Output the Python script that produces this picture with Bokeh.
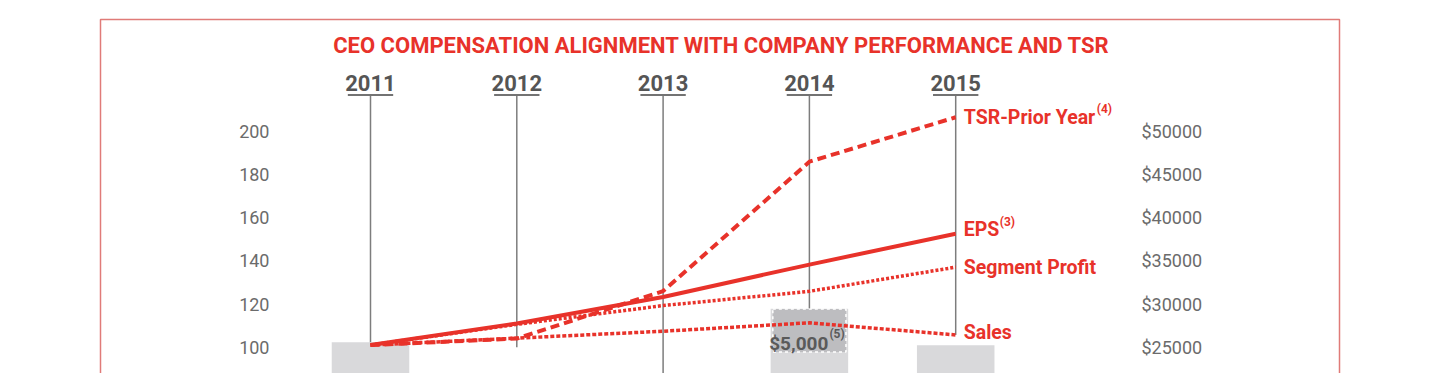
from bokeh.plotting import figure
from bokeh.models import Range1d, LinearAxis, FixedTicker, PrintfTickFormatter
from bokeh.core.properties import value
from bokeh.embed import file_html
from bokeh.resources import INLINE

# ---------------- data ----------------
years = [2011, 2012, 2013, 2014, 2015]
tsr_prior_year = [101, 104.0, 126.0, 186.0, 206.6]
eps = [101, 111.0, 123.3, 138.3, 152.6]
segment_profit = [101, 110.6, 119.3, 125.9, 137.1]
sales = [101, 104.2, 107.4, 111.3, 105.7]
ceo_comp = [25575, 20500, 19000, 29450, 25230]
highlight_year = 2014
highlight_amount = 5000
highlight_label = "$5,000"
highlight_note = "(5)"
left_ticks = [100, 120, 140, 160, 180, 200]
right_ticks = [25000, 30000, 35000, 40000, 45000, 50000]
guide_end = [102.3, 100.0, 80.0, 118.0, 105.7]
series_names = ["TSR-Prior Year", "EPS", "Segment Profit", "Sales"]
series_notes = ["(4)", "(3)", "", ""]
title_text = "CEO COMPENSATION ALIGNMENT WITH COMPANY PERFORMANCE AND TSR"

# ---------------- layout ----------------
W, H = 1440, 373
PAGE = 0
PX_PER_YEAR = 146.3
X0_PAGE = 370.0            # page x of 2011
PX_PER_UNIT = 2.157        # left-axis units
Y100_PAGE = 346.7          # page y of 100
RIGHT_FACTOR = 250.0       # right axis = 250 * left axis

def px(page_x):
    return 2011 + (page_x - X0_PAGE) / PX_PER_YEAR

def py(page_y):
    return 100 + (Y100_PAGE - page_y) / PX_PER_UNIT

x_start, x_end = px(PAGE), px(PAGE + W)
y_start, y_end = py(PAGE + H), py(PAGE)

RED = "#e8322a"
GRAY_TXT = "#6b6b6b"
FONT = "Roboto"

p = figure(width=W, height=H, x_range=Range1d(x_start, x_end), y_range=Range1d(y_start, y_end),
           output_backend="svg", toolbar_location=None, min_border=0,
           x_axis_location=None, y_axis_location=None)
p.extra_y_ranges = {"usd": Range1d(y_start * RIGHT_FACTOR, y_end * RIGHT_FACTOR)}
p.outline_line_color = None
p.xgrid.grid_line_color = None
p.ygrid.grid_line_color = None

def style_axis(ax, size, color, bold=False):
    ax.axis_line_color = None
    ax.major_tick_line_color = None
    ax.minor_tick_line_color = None
    ax.major_label_text_font = FONT
    ax.major_label_text_font_size = size
    ax.major_label_text_color = color
    if bold:
        ax.major_label_text_font_style = "bold"

ly = LinearAxis(ticker=FixedTicker(ticks=left_ticks), fixed_location=px(275), major_label_standoff=0)
style_axis(ly, "18px", GRAY_TXT)
p.add_layout(ly, "left")

ry = LinearAxis(y_range_name="usd", ticker=FixedTicker(ticks=right_ticks),
                formatter=PrintfTickFormatter(format="$%d"), fixed_location=px(1135), major_label_standoff=0)
style_axis(ry, "18px", GRAY_TXT)
p.add_layout(ry, "right")

xa = LinearAxis(ticker=FixedTicker(ticks=years), fixed_location=py(97), major_label_standoff=1)
style_axis(xa, "22px", "#555555", bold=True)
p.add_layout(xa, "above")

# outer frame box
p.quad(left=[px(100)], right=[px(1339)], top=[py(19)], bottom=[y_start - 20],
       fill_color=None, line_color="#e07b78", line_width=1.5)

# title
p.text(x=[px(721)], y=[py(45)], text=[title_text], text_align="center", text_baseline="middle",
       text_font=value(FONT), text_font_size="22px", text_font_style="bold", text_color=RED)

# bars (CEO comp, right axis)
p.vbar(x=years, top=ceo_comp, bottom=0, width=0.53, y_range_name="usd",
       fill_color="#d9d9db", line_color=None)
hi_top = ceo_comp[years.index(highlight_year)]
p.quad(left=[highlight_year - 0.25], right=[highlight_year + 0.25], top=[hi_top - 30],
       bottom=[hi_top - highlight_amount], y_range_name="usd",
       fill_color="#bdbdc0", line_color="white", line_width=1.5, line_dash="3 3")

# guide lines and year underlines
p.segment(x0=years, y0=[py(95.5)] * len(years), x1=years, y1=guide_end,
          line_color="#7d7d7d", line_width=1.5)
p.segment(x0=[y - 0.155 for y in years], y0=[py(94.5)] * len(years),
          x1=[y + 0.155 for y in years], y1=[py(94.5)] * len(years),
          line_color="#444444", line_width=1.5)

# series lines
p.line(years, sales, line_color=RED, line_width=3.5, line_dash="4 2")
p.line(years, segment_profit, line_color=RED, line_width=3.5, line_dash="3 2")
p.line(years, tsr_prior_year, line_color=RED, line_width=4, line_dash="9 5")
p.line(years, eps, line_color=RED, line_width=4)

# series labels
ends = [tsr_prior_year[-1], eps[-1], segment_profit[-1], sales[-1]]
name_y_off = [0, -4, 0, -2]
p.text(x=[years[-1]] * 4, y=ends, text=series_names, x_offset=8, y_offset=name_y_off,
       text_align="left", text_baseline="middle", text_font=value(FONT),
       text_font_size="19.5px", text_font_style="bold", text_color=RED)
note_x_off = [141, 44, 0, 0]
p.text(x=[years[-1]] * 4, y=ends, text=series_notes, x_offset=note_x_off,
       y_offset=[o - 8 for o in name_y_off], text_align="left", text_baseline="middle",
       text_font=value(FONT), text_font_size="12px", text_font_style="bold", text_color=RED)

# highlight label
p.text(x=[highlight_year], y=[hi_top - highlight_amount], text=[highlight_label], x_offset=19, y_offset=-8,
       y_range_name="usd", text_align="right", text_baseline="alphabetic", text_font=value(FONT),
       text_font_size="19px", text_font_style="bold", text_color="#5a5a5a")
p.text(x=[highlight_year], y=[hi_top - highlight_amount], text=[highlight_note], x_offset=20, y_offset=-18,
       y_range_name="usd", text_align="left", text_baseline="alphabetic", text_font=value(FONT),
       text_font_size="12px", text_font_style="bold", text_color="#5a5a5a")

open("out.html", "w").write(file_html(p, INLINE))
